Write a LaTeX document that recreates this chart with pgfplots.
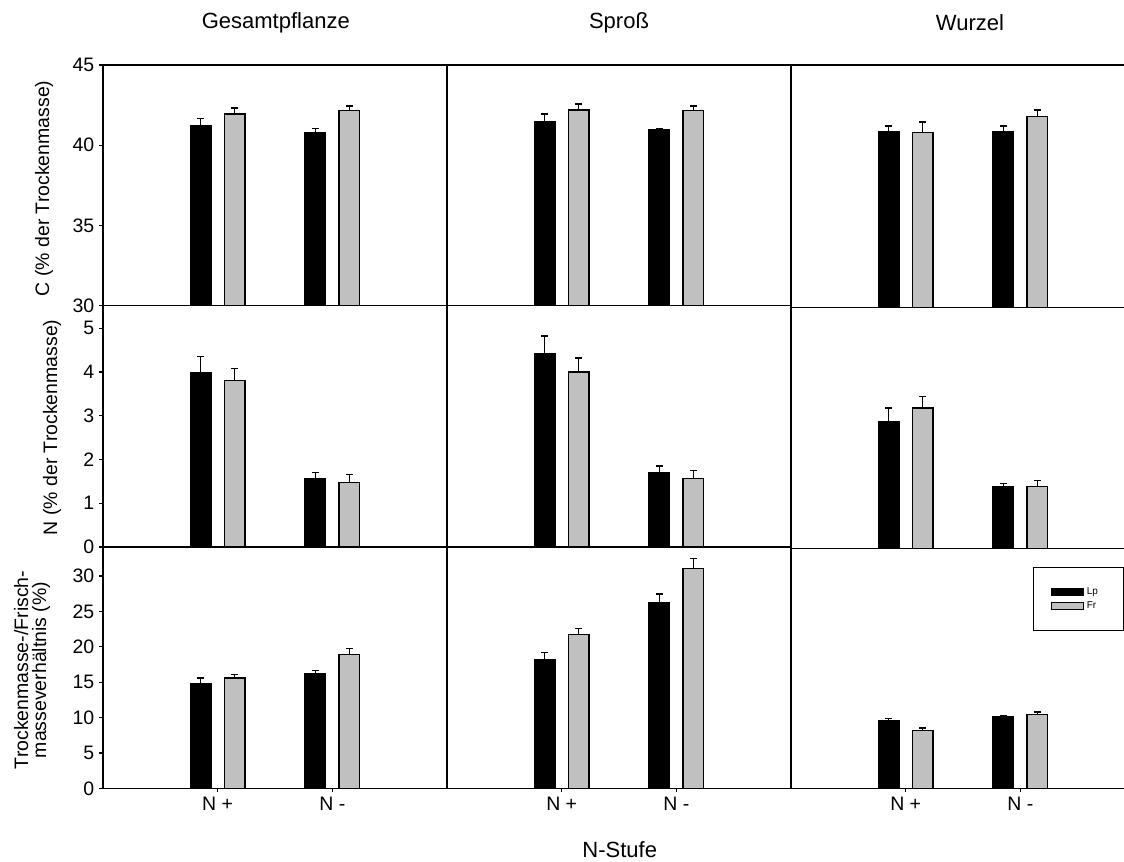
\documentclass[border=0pt]{standalone}
\usepackage{fontspec}
\setmainfont{Liberation Sans}
\usepackage{pgfplots}
\pgfplotsset{compat=1.18}
\definecolor{bargray}{HTML}{C0C0C0}
\pgfplotsset{
  panel/.style={
    scale only axis, width=258pt,
    xmin=0, xmax=3, xtick=\empty, ytick=\empty,
    axis line style={line width=1.1pt},
    tick style={black, line width=1pt},
    tick align=outside, major tick length=3pt,
    ybar=10pt, bar width=0.18,
    tick label style={font=\fontsize{14.6pt}{16pt}\selectfont},
    /pgf/number format/assume math mode=true,
  },
  bottomrow/.style={xtick={1,2}, xticklabels={N +, N -}, xtick pos=left},
  lp/.style={fill=black, draw=black, line width=0.9pt,
    error bars/y dir=plus, error bars/y explicit,
    error bars/error bar style={line width=1pt, black},
    error bars/error mark options={rotate=90, mark size=2.6pt, line width=1pt, black}},
  fr/.style={fill=bargray, draw=black, line width=0.9pt,
    error bars/y dir=plus, error bars/y explicit,
    error bars/error bar style={line width=1pt, black},
    error bars/error mark options={rotate=90, mark size=2.6pt, line width=1pt, black}},
}
\begin{document}
\begin{tikzpicture}
% ---------- Row 1: C ----------
\begin{axis}[panel, at={(77.25pt,-48.75pt)}, anchor=north west, height=180.375pt,
  ymin=30, ymax=45, ytick={30,35,40,45}, ytick pos=left]
\addplot[lp] coordinates {(1,41.19) +- (0,0.48) (2,40.81) +- (0,0.25)};
\addplot[fr] coordinates {(1,41.94) +- (0,0.37) (2,42.17) +- (0,0.27)};
\end{axis}
\begin{axis}[panel, at={(335.25pt,-48.75pt)}, anchor=north west, height=180.375pt,
  ymin=30, ymax=45]
\addplot[lp] coordinates {(1,41.46) +- (0,0.48) (2,40.96) +- (0,0.08)};
\addplot[fr] coordinates {(1,42.19) +- (0,0.37) (2,42.17) +- (0,0.27)};
\end{axis}
\begin{axis}[panel, at={(593.25pt,-48.75pt)}, anchor=north west, height=182.025pt,
  ymin=30, ymax=45]
\addplot[lp] coordinates {(1,40.86) +- (0,0.37) (2,40.86) +- (0,0.37)};
\addplot[fr] coordinates {(1,40.84) +- (0,0.64) (2,41.83) +- (0,0.39)};
\end{axis}
% ---------- Row 2: N ----------
\begin{axis}[panel, at={(77.25pt,-229.125pt)}, anchor=north west, height=181.125pt,
  ymin=0, ymax=5.52, ytick={0,1,2,3,4,5}, ytick pos=left]
\addplot[lp] coordinates {(1,3.99) +- (0,0.37) (2,1.57) +- (0,0.13)};
\addplot[fr] coordinates {(1,3.81) +- (0,0.27) (2,1.47) +- (0,0.19)};
\end{axis}
\begin{axis}[panel, at={(335.25pt,-229.125pt)}, anchor=north west, height=181.125pt,
  ymin=0, ymax=5.52]
\addplot[lp] coordinates {(1,4.42) +- (0,0.40) (2,1.71) +- (0,0.14)};
\addplot[fr] coordinates {(1,4.00) +- (0,0.32) (2,1.57) +- (0,0.18)};
\end{axis}
\begin{axis}[panel, at={(593.25pt,-230.775pt)}, anchor=north west, height=180.45pt,
  ymin=0, ymax=5.52]
\addplot[lp] coordinates {(1,2.90) +- (0,0.32) (2,1.42) +- (0,0.06)};
\addplot[fr] coordinates {(1,3.22) +- (0,0.27) (2,1.42) +- (0,0.14)};
\end{axis}
% ---------- Row 3: TM/FM ----------
\begin{axis}[panel, bottomrow, at={(77.25pt,-410.25pt)}, anchor=north west, height=180.975pt,
  ymin=0, ymax=34.1, ytick={0,5,10,15,20,25,30}, ytick pos=left]
\addplot[lp] coordinates {(1,14.74) +- (0,0.84) (2,16.15) +- (0,0.52)};
\addplot[fr] coordinates {(1,15.58) +- (0,0.52) (2,18.93) +- (0,0.87)};
\end{axis}
\begin{axis}[panel, bottomrow, at={(335.25pt,-410.25pt)}, anchor=north west, height=180.975pt,
  ymin=0, ymax=34.1]
\addplot[lp] coordinates {(1,18.13) +- (0,1.07) (2,26.30) +- (0,1.15)};
\addplot[fr] coordinates {(1,21.76) +- (0,0.84) (2,31.08) +- (0,1.42)};
\end{axis}
\begin{axis}[panel, bottomrow, at={(593.25pt,-411.225pt)}, anchor=north west, height=180pt,
  ymin=0, ymax=34.1,
  legend style={at={(0.7035,0.922)}, anchor=north west, draw=black, line width=1pt,
    fill=white, font=\fontsize{7.5pt}{9pt}\selectfont,
    inner xsep=13pt, inner ysep=13pt, row sep=0pt, cells={anchor=west}}]
\addplot[lp, legend image code/.code={\draw[fill=black, draw=black, line width=0.9pt] (0pt,-2.6pt) rectangle (24pt,2.6pt);}]
  coordinates {(1,9.67) +- (0,0.25) (2,10.26) +- (0,0.05)};
\addlegendentry{Lp\hspace*{4.5pt}}
\addplot[fr, legend image code/.code={\draw[fill=bargray, draw=black, line width=0.9pt] (0pt,-2.6pt) rectangle (24pt,2.6pt);}]
  coordinates {(1,8.27) +- (0,0.28) (2,10.54) +- (0,0.28)};
\addlegendentry{Fr}
\end{axis}
% ---------- Texts ----------
\node[anchor=base, font=\fontsize{16.5pt}{18pt}\selectfont] at (206.85pt,-21pt) {Gesamtpflanze};
\node[anchor=base, font=\fontsize{16.5pt}{18pt}\selectfont] at (464.25pt,-21pt) {Sproß};
\node[anchor=base, font=\fontsize{16.5pt}{18pt}\selectfont] at (727.5pt,-22.5pt) {Wurzel};
\node[anchor=base, font=\fontsize{16.5pt}{18pt}\selectfont] at (464.8pt,-643pt) {N-Stufe};
\node[rotate=90, font=\fontsize{14.6pt}{16pt}\selectfont] at (33pt,-141.3pt) {C (\% der Trockenmasse)};
\node[rotate=90, font=\fontsize{14.6pt}{16pt}\selectfont] at (39pt,-320.6pt) {N (\% der Trockenmasse)};
\node[rotate=90, align=center, font=\fontsize{14.6pt}{13.5pt}\selectfont] at (24pt,-502.5pt) {Trockenmasse-/Frisch-\\masseverhältnis (\%)};
\pgfresetboundingbox
\path[use as bounding box] (0pt,0pt) rectangle (843pt,-645.75pt);
\end{tikzpicture}
\end{document}
